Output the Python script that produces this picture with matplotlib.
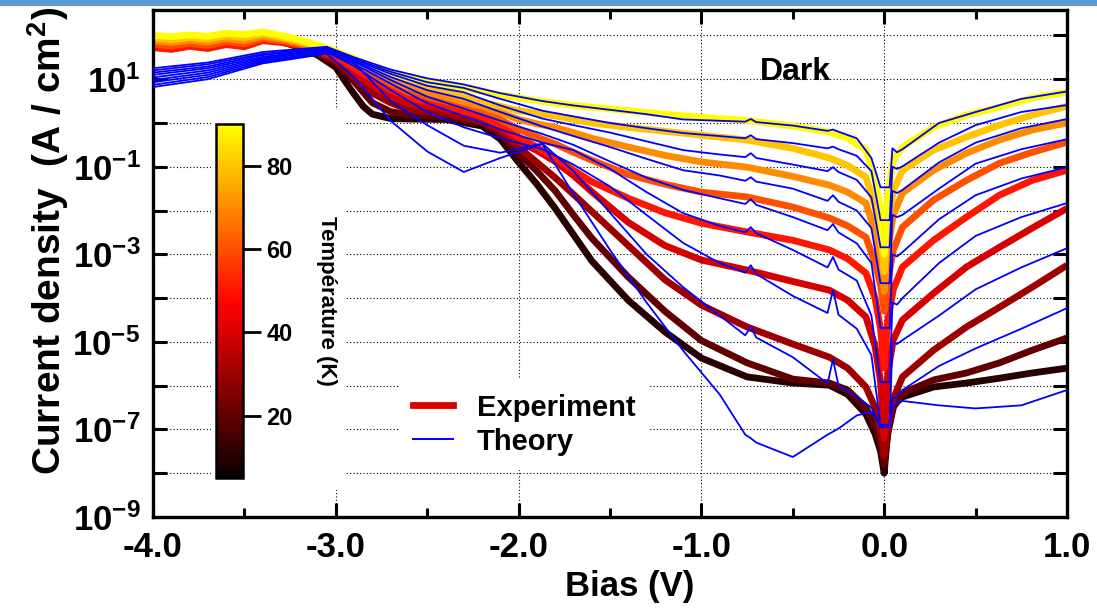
import numpy as np
import matplotlib
matplotlib.use("Agg")
import matplotlib.pyplot as plt
from matplotlib.colors import ListedColormap, Normalize
from matplotlib.lines import Line2D
from matplotlib.patches import Rectangle
from matplotlib.ticker import FixedLocator, MultipleLocator, NullLocator
from matplotlib.cm import ScalarMappable
from matplotlib import font_manager

# ------------------------------------------------------------------ data
temperatures_K = [10, 20, 30, 40, 50, 60, 70, 80, 90]

bias_exp = [-4.0, -3.9, -3.8, -3.7, -3.6, -3.5, -3.4, -3.3, -3.2, -3.1,
            -3.0, -2.95, -2.9, -2.85, -2.8, -2.7, -2.6, -2.4, -2.2, -2.1, -2.0, -1.9, -1.8, -1.7, -1.6,
            -1.4, -1.2, -1.0, -0.75, -0.5, -0.3, -0.2,
            -0.1, -0.05, -0.02, 0.0, 0.02, 0.05, 0.1, 0.27, 0.45, 0.63, 0.81, 1.0]

# log10 of current density (A/cm^2), experiment
log_exp_90K = [2.00, 1.97, 2.01, 1.98, 2.05, 2.02, 2.08, 2.00, 1.90, 1.78,
               1.64, 1.55, 1.47, 1.38, 1.30, 1.15, 1.02, 0.87, 0.72, 0.64, 0.57, 0.51, 0.45, 0.40, 0.36,
               0.28, 0.20, 0.13, 0.06, -0.07, -0.21, -0.35,
               -0.62, -1.3, -2.0, -3.0, -1.6, -0.85, -0.55, -0.10, 0.18, 0.36, 0.57, 0.70]
log_exp_80K = [1.94, 1.90, 1.95, 1.91, 1.99, 1.95, 2.03, 1.96, 1.86, 1.74,
               1.62, 1.52, 1.43, 1.34, 1.25, 1.10, 0.95, 0.70, 0.48, 0.38, 0.28, 0.22, 0.16, 0.08, 0.0,
               -0.10, -0.19, -0.28, -0.39, -0.58, -0.80, -0.97,
               -1.24, -1.9, -2.6, -3.4, -2.3, -1.55, -1.08, -0.62, -0.32, -0.05, 0.18, 0.38]
log_exp_70K = [1.88, 1.84, 1.89, 1.85, 1.93, 1.88, 1.98, 1.92, 1.83, 1.71,
               1.60, 1.50, 1.40, 1.30, 1.20, 1.00, 0.82, 0.60, 0.38, 0.24, 0.08, -0.02, -0.10, -0.22, -0.35,
               -0.55, -0.74, -0.89, -1.01, -1.22, -1.42, -1.58,
               -1.83, -2.5, -3.1, -3.85, -2.9, -2.1, -1.60, -1.08, -0.69, -0.39, -0.16, 0.0]
log_exp_60K = [1.80, 1.76, 1.82, 1.77, 1.86, 1.81, 1.93, 1.88, 1.80, 1.68,
               1.58, 1.46, 1.35, 1.23, 1.12, 0.90, 0.70, 0.50, 0.27, 0.08, -0.15, -0.32, -0.48, -0.67, -0.85,
               -1.18, -1.40, -1.58, -1.69, -1.92, -2.17, -2.35,
               -2.61, -3.2, -3.7, -4.3, -3.6, -2.9, -2.38, -1.76, -1.31, -0.92, -0.67, -0.44]
log_exp_50K = [1.72, 1.68, 1.75, 1.70, 1.79, 1.74, 1.88, 1.84, 1.77, 1.65,
               1.53, 1.39, 1.25, 1.12, 1.00, 0.76, 0.57, 0.40, 0.15, -0.05, -0.33, -0.55, -0.80, -1.08, -1.34,
               -1.72, -2.05, -2.29, -2.49, -2.68, -2.90, -3.10,
               -3.43, -4.0, -4.7, -5.6, -4.5, -3.8, -3.29, -2.68, -2.15, -1.65, -1.31, -1.08]
log_exp_40K = [1.76, 1.72, 1.78, 1.73, 1.82, 1.77, 1.90, 1.85, 1.77, 1.64,
               1.48, 1.32, 1.15, 1.00, 0.85, 0.62, 0.45, 0.32, 0.08, -0.12, -0.42, -0.63, -0.88, -1.20, -1.57,
               -2.27, -2.80, -3.13, -3.36, -3.62, -3.82, -4.05,
               -4.43, -5.1, -5.9, -7.2, -5.7, -4.95, -4.50, -3.89, -3.29, -2.84, -2.40, -1.95]
log_exp_30K = [1.78, 1.74, 1.80, 1.75, 1.84, 1.79, 1.91, 1.86, 1.76, 1.62,
               1.42, 1.24, 1.05, 0.86, 0.68, 0.46, 0.30, 0.22, 0.03, -0.18, -0.55, -0.90, -1.25, -1.63, -2.02,
               -2.80, -3.58, -4.16, -4.66, -5.05, -5.35, -5.6,
               -6.03, -6.5, -7.0, -7.6, -6.9, -6.3, -5.80, -5.19, -4.66, -4.21, -3.75, -3.25]
log_exp_20K = [1.80, 1.77, 1.82, 1.77, 1.86, 1.81, 1.92, 1.86, 1.75, 1.58,
               1.38, 1.15, 0.95, 0.70, 0.46, 0.26, 0.18, 0.14, 0.0, -0.25, -0.70, -1.10, -1.55, -2.10, -2.63,
               -3.52, -4.30, -4.97, -5.48, -5.85, -5.94, -6.1,
               -6.5, -6.9, -7.3, -7.8, -7.1, -6.5, -6.17, -5.87, -5.71, -5.48, -5.19, -4.91]
log_exp_10K = [1.82, 1.79, 1.84, 1.79, 1.88, 1.82, 1.93, 1.86, 1.73, 1.55,
               1.27, 0.96, 0.66, 0.38, 0.20, 0.10, 0.09, 0.08, -0.07, -0.37, -0.90, -1.40, -1.95, -2.55, -3.15,
               -4.05, -4.77, -5.37, -5.80, -5.94, -5.99, -6.2,
               -6.65, -7.1, -7.5, -8.0, -7.0, -6.45, -6.26, -6.03, -5.94, -5.83, -5.71, -5.60]

bias_theory = [-4.0, -3.7, -3.4, -3.05, -2.9, -2.7, -2.5, -2.3, -2.1, -1.87, -1.7, -1.5, -1.3,
               -1.1, -0.9, -0.76, -0.73, -0.70, -0.5, -0.31, -0.28, -0.25, -0.15, -0.07, -0.02,
               0.03, 0.045, 0.07, 0.1, 0.3, 0.5, 0.75, 1.0]

# log10 of current density (A/cm^2), theory
log_th_90K = [1.25, 1.38, 1.62, 1.74, 1.50, 1.22, 1.02, 0.88, 0.68, 0.50, 0.40, 0.30, 0.20,
              0.08, 0.05, 0.03, 0.09, 0.02, -0.06, -0.18, -0.15, -0.20, -0.35, -0.80, -1.47,
              -1.47, -0.58, -0.67, -0.60, 0.0, 0.25, 0.55, 0.72]
log_th_80K = [1.20, 1.34, 1.58, 1.72, 1.47, 1.17, 0.93, 0.80, 0.55, 0.28, 0.15, 0.0, -0.12,
              -0.23, -0.30, -0.35, -0.28, -0.37, -0.46, -0.58, -0.54, -0.60, -0.75, -1.10, -2.22,
              -2.22, -1.00, -1.05, -0.99, -0.45, -0.05, 0.25, 0.41]
log_th_70K = [1.15, 1.29, 1.55, 1.70, 1.45, 1.12, 0.85, 0.70, 0.40, 0.10, -0.05, -0.22, -0.42,
              -0.62, -0.72, -0.78, -0.69, -0.80, -0.95, -1.10, -1.01, -1.12, -1.30, -1.70, -2.84,
              -2.84, -1.55, -1.60, -1.53, -0.90, -0.45, -0.12, 0.09]
log_th_60K = [1.10, 1.25, 1.51, 1.68, 1.42, 1.05, 0.75, 0.55, 0.25, -0.08, -0.30, -0.55, -0.82,
              -1.08, -1.20, -1.32, -1.24, -1.34, -1.50, -1.78, -1.65, -1.80, -2.00, -2.40, -3.66,
              -3.66, -2.10, -2.15, -2.10, -1.50, -0.93, -0.60, -0.37]
log_th_50K = [1.04, 1.20, 1.48, 1.67, 1.40, 0.98, 0.60, 0.33, 0.05, -0.25, -0.50, -0.88, -1.25,
              -1.53, -1.72, -1.85, -1.74, -1.87, -2.15, -2.45, -2.31, -2.50, -2.75, -3.20, -4.68,
              -4.68, -3.00, -3.05, -2.95, -2.20, -1.65, -1.27, -1.01]
log_th_40K = [0.98, 1.15, 1.45, 1.65, 1.35, 0.90, 0.45, 0.15, -0.15, -0.45, -0.62, -1.05, -1.58,
              -2.06, -2.35, -2.50, -2.38, -2.52, -2.90, -3.30, -3.06, -3.35, -3.60, -4.40, -5.92,
              -5.92, -4.10, -4.15, -4.00, -3.20, -2.58, -2.15, -1.83]
log_th_30K = [0.93, 1.10, 1.42, 1.62, 1.30, 0.75, 0.25, -0.10, -0.35, -0.60, -0.95, -1.45, -2.10,
              -2.74, -3.20, -3.42, -3.25, -3.45, -3.95, -4.34, -3.82, -4.38, -4.70, -5.30, -6.90,
              -6.90, -5.00, -5.05, -4.96, -4.40, -3.80, -3.30, -2.86]
log_th_20K = [0.87, 1.05, 1.39, 1.60, 1.38, 0.50, -0.05, -0.52, -0.68, -0.47, -1.10, -2.05, -3.00,
              -3.75, -4.40, -4.85, -4.65, -4.90, -5.35, -5.95, -5.40, -6.00, -6.25, -6.50, -6.95,
              -6.95, -6.30, -6.25, -6.10, -5.55, -5.15, -4.70, -4.23]
log_th_10K = [0.82, 1.00, 1.36, 1.58, 1.05, 0.05, -0.65, -1.12, -0.80, -0.48, -1.62, -2.90, -4.10,
              -5.20, -6.20, -7.12, -7.20, -7.30, -7.63, -7.12, -7.05, -6.98, -6.68, -6.60, -6.90,
              -6.90, -6.50, -6.40, -6.35, -6.45, -6.52, -6.45, -6.10]

x_ticks = [-4.0, -3.0, -2.0, -1.0, 0.0, 1.0]
x_tick_labels = ["-4.0", "-3.0", "-2.0", "-1.0", "0.0", "1.0"]
y_decades = list(range(-9, 3))
y_labelled_decades = [1, -1, -3, -5, -7, -9]
cbar_ticks = [20, 40, 60, 80]
cbar_min, cbar_max = 5, 90
legend_labels = ["Experiment", "Theory"]

# ------------------------------------------------------------------ style
fams = {f.name for f in font_manager.fontManager.ttflist}
NARROW = "Liberation Sans Narrow" if "Liberation Sans Narrow" in fams else "Liberation Sans"
plt.rcParams["font.family"] = ["Liberation Sans", "DejaVu Sans"]
plt.rcParams["font.weight"] = "bold"
plt.rcParams["mathtext.fontset"] = "custom"
plt.rcParams["mathtext.rm"] = "Liberation Sans:bold"
plt.rcParams["mathtext.bf"] = "Liberation Sans:bold"
plt.rcParams["mathtext.it"] = "Liberation Sans:bold"

W, H = 1097, 611
fig = plt.figure(figsize=(W / 100, H / 100), dpi=100)
fig.add_artist(Rectangle((0, 1 - 6 / H), 1, 6 / H, transform=fig.transFigure,
                         facecolor="#5b9bd5", edgecolor="none"))

ax = fig.add_axes([153 / W, 1 - 517 / H, 914 / W, 507 / H])

hot = plt.get_cmap("hot")
cmap = ListedColormap(hot(np.linspace(0, 0.746, 256)))
norm = Normalize(cbar_min, cbar_max)

exp_curves = [log_exp_10K, log_exp_20K, log_exp_30K, log_exp_40K, log_exp_50K,
              log_exp_60K, log_exp_70K, log_exp_80K, log_exp_90K]
th_curves = [log_th_10K, log_th_20K, log_th_30K, log_th_40K, log_th_50K,
             log_th_60K, log_th_70K, log_th_80K, log_th_90K]

for i, (T, L) in enumerate(zip(temperatures_K, exp_curves)):
    ax.plot(bias_exp, 10.0 ** np.array(L), color=cmap(norm(T)), lw=4.9,
            solid_joinstyle="round", solid_capstyle="butt", zorder=2 + 0.01 * i)
for L in th_curves:
    ax.plot(bias_theory, 10.0 ** np.array(L), color="#0000ff", lw=1.3,
            solid_joinstyle="round", zorder=3)

ax.set_yscale("log")
ax.set_xlim(-4, 1)
ax.set_ylim(1e-9, 10 ** 2.58)
ax.yaxis.set_major_locator(FixedLocator([10.0 ** k for k in y_decades]))
ax.yaxis.set_minor_locator(NullLocator())
ax.set_yticklabels([r"$\mathbf{10^{%d}}$" % k if k in y_labelled_decades else "" for k in y_decades])
ax.set_xticks(x_ticks)
ax.set_xticklabels(x_tick_labels)
ax.xaxis.set_minor_locator(MultipleLocator(0.5))

ax.tick_params(which="both", direction="in", top=True, right=True)
ax.tick_params(which="major", length=10, width=2.2)
ax.tick_params(which="minor", length=6.5, width=2.2)
ax.tick_params(axis="x", labelsize=25, pad=10)
ax.tick_params(axis="y", labelsize=25, pad=9)
for s in ax.spines.values():
    s.set_linewidth(2.4)

ax.grid(True, which="major", color="black", linestyle=(0, (1, 2)), linewidth=0.8)
ax.set_axisbelow(True)

# white box masking the grid behind the colour bar
ax.add_patch(Rectangle((211 / W, 1 - 490 / H), 134 / W, 380 / H, transform=fig.transFigure,
                       facecolor="white", edgecolor="none", zorder=1))

ax.set_ylabel("Current density  (A / cm$^{2}$)", fontsize=28, fontweight="bold")
ax.yaxis.set_label_coords(-0.09, 0.545)
ax.set_xlabel("Bias (V)", fontsize=25, fontweight="bold")
ax.xaxis.set_label_coords(0.522, -0.105)

ax.text(0.703, 0.878, "Dark", transform=ax.transAxes, fontsize=23, fontweight="bold",
        ha="center", va="center")

handles = [Line2D([], [], color="#dd0000", lw=4.9), Line2D([], [], color="#0000ff", lw=1.4)]
ax.legend(handles, legend_labels, loc="upper left", bbox_to_anchor=(0.268, 0.272),
          frameon=True, facecolor="white", edgecolor="none", framealpha=1, fancybox=False,
          prop={"weight": "bold", "size": 21}, handlelength=1.4, handletextpad=0.8,
          labelspacing=0.2, borderpad=0.5, borderaxespad=0)

cax = fig.add_axes([216 / W, 1 - 478 / H, 27 / W, 354 / H])
cb = fig.colorbar(ScalarMappable(norm=norm, cmap=cmap), cax=cax, ticks=cbar_ticks)
cb.outline.set_linewidth(1.8)
cax.tick_params(direction="out", length=13, width=2, labelsize=17, pad=4)
cax.text(4.1, 0.5, "Température (K)", rotation=-90, transform=cax.transAxes,
         ha="center", va="center", fontsize=16, fontweight="bold", family=[NARROW, "DejaVu Sans"])

fig.savefig("out.png", dpi=100)
